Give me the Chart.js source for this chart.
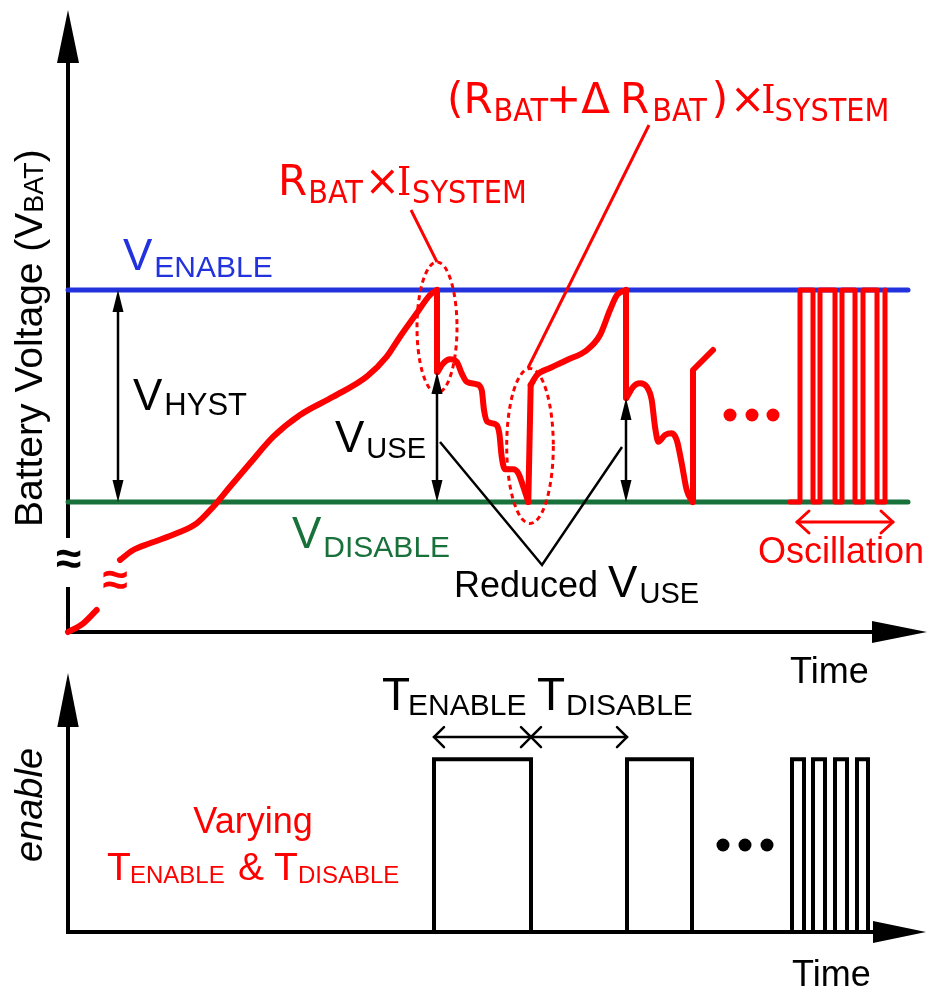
<!DOCTYPE html>
<html>
<head>
<meta charset="utf-8">
<script src="https://cdn.jsdelivr.net/npm/chart.js@4.4.1/dist/chart.umd.min.js"></script>
<style>
  html, body { margin: 0; padding: 0; background: #fff; }
  #wrap { position: relative; width: 935px; height: 996px; overflow: hidden; background: #fff; }
  canvas { position: absolute; left: 0; }
</style>
</head>
<body>
<div id="wrap">
  <canvas id="vbat" width="935" height="700" style="top:0;width:935px;height:700px"></canvas>
  <canvas id="enable" width="935" height="356" style="top:640px;width:935px;height:356px"></canvas>
</div>
<script>
// ---------------------------------------------------------------
// Battery voltage vs. time (arbitrary units) and the enable signal
// ---------------------------------------------------------------
const V_ENABLE = 34.2;
const V_DISABLE = 13.0;

// Initial charge from an empty cell (interrupted by the axis-break mark)
const chargeLowT = [0, 1.53, 2.87];
const chargeLowV = [0, 0.87, 2.2];
const chargeT = [5.2, 6.53, 8.2, 10.87, 12.87, 14.53, 16.2, 18.2, 20.53, 23.2, 26.53, 29.87, 31.87, 33.2, 34.87, 36.2, 36.9];
const chargeV = [7.2, 8.2, 8.87, 9.87, 10.87, 12.53, 14.53, 16.87, 19.53, 21.7, 23.53, 25.53, 27.53, 29.53, 31.87, 33.7, 34.2];

// First enable: IR drop, then discharge down to V_DISABLE
const drop1T = [36.9, 36.9];
const drop1V = [34.2, 26.0];
const use1T = [36.95, 37.53, 38.2, 38.87, 39.37, 39.87, 40.87, 41.37, 41.6, 41.93, 42.7, 43.13, 43.37, 43.7, 44.53, 45.03, 45.53, 46.03];
const use1V = [26.0, 26.87, 27.27, 27.03, 25.87, 25.03, 24.77, 24.2, 22.2, 21.03, 20.8, 19.87, 17.53, 16.27, 16.27, 15.87, 14.53, 13.0];

// Disable: voltage recovers by (R_BAT + dR_BAT) x I_SYSTEM, then recharges
const rise1T = [46.03, 46.27];
const rise1V = [13.0, 24.7];
const recharge1T = [46.27, 46.9, 48.2, 49.9, 51.9, 53.2, 54.2, 54.9, 55.8];
const recharge1V = [24.7, 25.7, 26.4, 27.2, 28.2, 29.7, 32.2, 33.7, 34.2];

// Second enable
const drop2T = [55.8, 55.8];
const drop2V = [34.2, 23.4];
const use2T = [55.85, 56.53, 57.2, 57.87, 58.37, 58.7, 59.03, 59.7, 60.37, 60.87, 61.37, 61.87, 62.45];
const use2V = [23.4, 24.53, 24.87, 24.53, 23.2, 20.53, 19.03, 19.7, 19.87, 19.2, 16.87, 14.2, 13.0];
const rise2T = [62.5, 62.5, 64.5];
const rise2V = [13.0, 26.2, 28.2];

// Late stage: oscillation between the two thresholds (switching instants)
const oscTimes  = [72.2, 73.2, 74.5, 75.2, 76.7, 77.4, 78.7, 79.5, 80.9, 81.7];
const oscStates = [0, 1, 0, 1, 0, 1, 0, 1, 0, 1];

// Threshold lines extent
const thresholdT = [0, 84.0];

// enable signal: switching instants and the level after each one
const enableTimes  = [0, 36.6, 46.3, 55.9, 62.4, 72.4, 73.6, 74.5, 75.7, 76.7, 77.9, 78.9, 80.0];
const enableLevels = [0, 1, 0, 1, 0, 1, 0, 1, 0, 1, 0, 1, 0];

// ---------------------------------------------------------------
const RED = '#ff0000', BLUE = '#2233dd', GREEN = '#18703a', BLACK = '#000000';
const FONT = '"Liberation Sans", Arial, Helvetica, sans-serif';
const FORMULA_FONT = '"DejaVu Sans", sans-serif';
const FORMULA_SUB_FONT = '"DejaVu Sans Condensed", "DejaVu Sans", sans-serif';
const SERIF_FONT = '"DejaVu Serif Condensed", "DejaVu Serif", serif';

function pts(ts, vs) { return ts.map((t, i) => ({ x: t, y: vs[i] })); }

function redSeg(ts, vs, smooth) {
  return {
    data: pts(ts, vs),
    borderColor: RED, borderWidth: 6, pointRadius: 0, fill: false, clip: false,
    tension: smooth ? 0.4 : 0,
    cubicInterpolationMode: smooth ? 'monotone' : 'default',
    borderCapStyle: 'round', borderJoinStyle: 'round'
  };
}

function fontOf(r) { return (r.italic ? 'italic ' : '') + (r.bold ? 'bold ' : '') + r.size + 'px ' + (r.fam || FONT); }

// Draws a run of text pieces (main letters + subscripts) starting at (x, y) baseline
function drawRuns(ctx, x, y, runs, color, align) {
  ctx.fillStyle = color;
  ctx.textAlign = 'left';
  ctx.textBaseline = 'alphabetic';
  const widths = runs.map(r => { ctx.font = fontOf(r); return ctx.measureText(r.s).width; });
  let cx = x;
  if (align === 'center') {
    const total = widths.reduce((a, b) => a + b, 0) + runs.reduce((a, r) => a + (r.gap || 0), 0);
    cx = x - total / 2;
  }
  runs.forEach((r, i) => {
    ctx.font = fontOf(r);
    const rx = (r.x !== undefined) ? x + r.x : cx + (r.gap || 0);
    ctx.fillText(r.s, rx, y + (r.dy || 0));
    cx = rx + widths[i];
  });
}

function line(ctx, x1, y1, x2, y2) {
  ctx.beginPath(); ctx.moveTo(x1, y1); ctx.lineTo(x2, y2); ctx.stroke();
}

// Filled arrow head, tip at (tx, ty), pointing along (dx, dy)
function head(ctx, tx, ty, dx, dy, len, hw) {
  const bx = tx - dx * len, by = ty - dy * len;
  ctx.beginPath();
  ctx.moveTo(tx, ty);
  ctx.lineTo(bx - dy * hw, by + dx * hw);
  ctx.lineTo(bx + dy * hw, by - dx * hw);
  ctx.closePath(); ctx.fill();
}

// Open chevron arrow head, tip at (tx, ty), pointing along (dx, 0)
function chevron(ctx, tx, ty, dx, arm, spread) {
  ctx.beginPath();
  ctx.moveTo(tx - dx * arm, ty - spread);
  ctx.lineTo(tx, ty);
  ctx.lineTo(tx - dx * arm, ty + spread);
  ctx.stroke();
}

function vDoubleArrow(ctx, x, y1, y2) {
  ctx.lineWidth = 2.5;
  line(ctx, x, y1 + 12, x, y2 - 12);
  head(ctx, x, y1, 0, -1, 22, 5.5);
  head(ctx, x, y2, 0, 1, 22, 5.5);
}

function hDoubleArrow(ctx, x1, x2, y, arm, spread) {
  line(ctx, x1, y, x2, y);
  chevron(ctx, x1, y, -1, arm, spread);
  chevron(ctx, x2, y, 1, arm, spread);
}

function rotatedRuns(ctx, x, y, runs, color) {
  ctx.save();
  ctx.translate(x, y);
  ctx.rotate(-Math.PI / 2);
  drawRuns(ctx, 0, 0, runs, color);
  ctx.restore();
}

// ---------------- Annotation layout (top panel) -----------------
const F = FORMULA_FONT, FS = FORMULA_SUB_FONT, S = SERIF_FONT;
const topLabels = [
  { t: 5.5,  v: 36.2, color: BLUE,  runs: [{ s: 'V', size: 44 }, { s: 'ENABLE', size: 30, dy: 7, gap: 2 }] },
  { t: 6.5,  v: 22.2, color: BLACK, runs: [{ s: 'V', size: 44 }, { s: 'HYST', size: 31, dy: 5, gap: 2 }] },
  { t: 22.4, v: 8.4,  color: GREEN, runs: [{ s: 'V', size: 44 }, { s: 'DISABLE', size: 30, dy: 9, gap: 2 }] },
  { t: 26.7, v: 18.0, color: BLACK, runs: [{ s: 'V', size: 44 }, { s: 'USE', size: 29, dy: 6, gap: 2 }] },
  { t: 38.6, v: 3.5,  color: BLACK, runs: [{ s: 'Reduced ', size: 36 }, { s: 'V', size: 44 }, { s: 'USE', size: 29, dy: 6, gap: 2 }] },
  { t: 21.0, v: 43.7, color: RED, runs: [
      { s: 'R', size: 42, fam: F }, { s: 'BAT', size: 32, dy: 8, fam: FS, gap: 1 },
      { s: '\u00d7', size: 42, fam: F, gap: 2 },
      { s: 'I', size: 40, fam: S, gap: -3 }, { s: 'SYSTEM', size: 32, dy: 8, fam: FS, gap: 1 }] },
  { t: 37.9, v: 51.9, color: RED, runs: [
      { s: '(', size: 42, fam: F }, { s: 'R', size: 42, fam: F }, { s: 'BAT', size: 32, dy: 8, fam: FS, gap: 1 },
      { s: '+', size: 42, fam: F, gap: -2 }, { s: '\u0394', size: 42, fam: F }, { s: 'R', size: 42, fam: F, gap: 10 },
      { s: 'BAT', size: 32, dy: 8, fam: FS, gap: 3 }, { s: ')', size: 42, fam: F, gap: 5 }, { s: '\u00d7', size: 42, fam: F, gap: 2 },
      { s: 'I', size: 40, fam: S, gap: -4 }, { s: 'SYSTEM', size: 32, dy: 8, fam: FS, gap: -1 }] },
  { t: 69.0, v: 6.9,  color: RED,   runs: [{ s: 'Oscillation', size: 36 }] },
  { t: 72.2, v: -5.1, color: BLACK, runs: [{ s: 'Time', size: 36 }] }
];
const axisTitleTop = { t: -2.6, v: 10.5, runs: [{ s: 'Battery Voltage (V', size: 39 }, { s: 'BAT', size: 27, dy: 1 }, { s: ')', size: 39 }] };
const AXIS_BREAK = [4.5, 9.4];               // gap in the voltage axis
const axisBreakMark = { t: 0.05, v: 7.1 };
const curveBreakMark = { t: 4.7, v: 5.0 };
const ellipses = [ { t: 36.9, v: 30.45, rx: 20, ry: 65.5 }, { t: 46.2, v: 18.6, rx: 23.3, ry: 77.5 } ];
const leaders = [ [[34.3, 42.2], [36.9, 37.0]], [[58.1, 50.7], [46.0, 26.4]] ];
const reducedLines = [[37.2, 19.0], [47.4, 6.7], [55.4, 18.5]];
const hystArrowT = 5.0;
const moreDotsTop = { t: [66.2, 68.4, 70.5], v: 21.7 };
const oscArrow = { t1: 72.9, t2: 82.5, v: 11.0 };

const topDecor = {
  id: 'topDecor',
  beforeDatasetsDraw(chart) {
    const { ctx, chartArea: a, scales: { x, y } } = chart;
    const x0 = a.left, y0 = y.getPixelForValue(0);
    ctx.save();
    ctx.strokeStyle = BLACK; ctx.fillStyle = BLACK; ctx.lineWidth = 4; ctx.lineCap = 'butt';
    line(ctx, x0, y0 + 2, x0, y.getPixelForValue(AXIS_BREAK[0]));
    line(ctx, x0, y.getPixelForValue(AXIS_BREAK[1]), x0, a.top + 50);
    head(ctx, x0, a.top, 0, -1, 53, 11);
    line(ctx, x0 - 2, y0, a.right - 50, y0);
    head(ctx, a.right + 2, y0, 1, 0, 55, 11);
    ctx.restore();
  },
  afterDatasetsDraw(chart) {
    const { ctx, scales: { x, y } } = chart;
    const X = t => x.getPixelForValue(t), Y = v => y.getPixelForValue(v);
    ctx.save();

    // axis-break marks
    ctx.textAlign = 'center'; ctx.textBaseline = 'middle';
    ctx.font = 'bold 46px ' + FONT;
    ctx.fillStyle = BLACK; ctx.fillText('\u2248', X(axisBreakMark.t), Y(axisBreakMark.v));
    ctx.fillStyle = RED;   ctx.fillText('\u2248', X(curveBreakMark.t), Y(curveBreakMark.v));

    // dashed ellipses around the IR steps
    ctx.strokeStyle = RED; ctx.lineWidth = 3; ctx.setLineDash([5, 4]);
    ellipses.forEach(e => { ctx.beginPath(); ctx.ellipse(X(e.t), Y(e.v), e.rx, e.ry, 0, 0, Math.PI * 2); ctx.stroke(); });
    ctx.setLineDash([]);

    // leader lines from the formulas
    ctx.lineWidth = 3;
    leaders.forEach(l => line(ctx, X(l[0][0]), Y(l[0][1]), X(l[1][0]), Y(l[1][1])));

    // usable-voltage arrows
    ctx.strokeStyle = BLACK; ctx.fillStyle = BLACK;
    vDoubleArrow(ctx, X(hystArrowT), Y(V_ENABLE), Y(V_DISABLE));
    vDoubleArrow(ctx, X(drop1T[1]), Y(drop1V[1]), Y(V_DISABLE));
    vDoubleArrow(ctx, X(drop2T[1]), Y(drop2V[1]), Y(V_DISABLE));

    // "Reduced V_USE" pointer
    ctx.lineWidth = 2.5; ctx.lineJoin = 'miter';
    ctx.beginPath();
    reducedLines.forEach((p, i) => i ? ctx.lineTo(X(p[0]), Y(p[1])) : ctx.moveTo(X(p[0]), Y(p[1])));
    ctx.stroke();

    // continuation dots
    ctx.fillStyle = RED;
    moreDotsTop.t.forEach(t => { ctx.beginPath(); ctx.arc(X(t), Y(moreDotsTop.v), 6.5, 0, Math.PI * 2); ctx.fill(); });

    // oscillation span arrow
    ctx.strokeStyle = RED; ctx.lineWidth = 3; ctx.lineJoin = 'round'; ctx.lineCap = 'round';
    hDoubleArrow(ctx, X(oscArrow.t1), X(oscArrow.t2), Y(oscArrow.v), 12, 11);

    // labels
    topLabels.forEach(l => drawRuns(ctx, X(l.t), Y(l.v), l.runs, l.color, l.align));
    rotatedRuns(ctx, X(axisTitleTop.t), Y(axisTitleTop.v), axisTitleTop.runs, BLACK);
    ctx.restore();
  }
};

const oscData = oscTimes.map((t, i) => ({ x: t, y: oscStates[i] ? V_ENABLE : V_DISABLE }));

new Chart(document.getElementById('vbat'), {
  type: 'line',
  data: {
    datasets: [
      redSeg(chargeLowT, chargeLowV, true),
      redSeg(chargeT, chargeV, true),
      redSeg(drop1T, drop1V, false),
      redSeg(use1T, use1V, true),
      redSeg(rise1T, rise1V, false),
      redSeg(recharge1T, recharge1V, true),
      redSeg(drop2T, drop2V, false),
      redSeg(use2T, use2V, true),
      redSeg(rise2T, rise2V, false),
      { data: oscData, stepped: 'before', borderColor: RED, borderWidth: 5, pointRadius: 0, fill: false, clip: false,
        borderJoinStyle: 'round', borderCapStyle: 'round' },
      { data: pts(thresholdT, [V_ENABLE, V_ENABLE]), borderColor: BLUE, borderWidth: 5, pointRadius: 0, clip: false, borderCapStyle: 'round' },
      { data: pts(thresholdT, [V_DISABLE, V_DISABLE]), borderColor: GREEN, borderWidth: 5, pointRadius: 0, clip: false, borderCapStyle: 'round' }
    ]
  },
  options: {
    responsive: false, animation: false, devicePixelRatio: 1, events: [],
    layout: { padding: { left: 68, right: 10, top: 10, bottom: 68 } },
    plugins: { legend: { display: false }, tooltip: { enabled: false } },
    scales: {
      x: { type: 'linear', min: 0, max: 85.7, display: false },
      y: { type: 'linear', min: 0, max: 62.2, display: false }
    }
  },
  plugins: [topDecor]
});

// ---------------- Annotation layout (bottom panel) -----------------
const enLabels = [
  { t: 31.4, v: 1.286, color: BLACK, runs: [{ s: 'T', size: 46 }, { s: 'ENABLE', size: 30, dy: 5, gap: -2 }] },
  { t: 46.9, v: 1.286, color: BLACK, runs: [{ s: 'T', size: 46 }, { s: 'DISABLE', size: 30, dy: 5, gap: 1 }] },
  { t: 18.5, v: 0.573, color: RED, align: 'center', runs: [{ s: 'Varying', size: 36 }] },
  { t: 3.9,  v: 0.301, color: RED, runs: [
      { s: 'T', size: 39, x: 0 }, { s: 'ENABLE', size: 24, dy: 3, x: 23 }, { s: '&', size: 39, x: 131 },
      { s: 'T', size: 39, x: 167 }, { s: 'DISABLE', size: 24, dy: 3, x: 191 }] },
  { t: 72.4, v: -0.313, color: BLACK, runs: [{ s: 'Time', size: 36 }] }
];
const axisTitleBottom = { t: -2.6, v: 0.405, runs: [{ s: 'enable', size: 38, italic: true }] };
const periodArrowV = 1.129;
const moreDotsBottom = { t: [65.5, 67.7, 69.9], v: 0.504 };

const enDecor = {
  id: 'enDecor',
  beforeDatasetsDraw(chart) {
    const { ctx, chartArea: a, scales: { y } } = chart;
    const x0 = a.left, y0 = y.getPixelForValue(0);
    ctx.save();
    ctx.strokeStyle = BLACK; ctx.fillStyle = BLACK; ctx.lineWidth = 4;
    line(ctx, x0, y0 + 2, x0, a.top + 50);
    head(ctx, x0, a.top, 0, -1, 54, 10.7);
    line(ctx, x0 - 2, y0, a.right - 50, y0);
    head(ctx, a.right + 1, y0, 1, 0, 53, 11);
    ctx.restore();
  },
  afterDatasetsDraw(chart) {
    const { ctx, scales: { x, y } } = chart;
    const X = t => x.getPixelForValue(t), Y = v => y.getPixelForValue(v);
    ctx.save();
    // T_ENABLE / T_DISABLE spans
    ctx.strokeStyle = BLACK; ctx.lineWidth = 2.5; ctx.lineCap = 'round'; ctx.lineJoin = 'miter';
    hDoubleArrow(ctx, X(enableTimes[1]), X(enableTimes[2]), Y(periodArrowV), 10, 10);
    hDoubleArrow(ctx, X(enableTimes[2]), X(enableTimes[3]), Y(periodArrowV), 10, 10);
    // continuation dots
    ctx.fillStyle = BLACK;
    moreDotsBottom.t.forEach(t => { ctx.beginPath(); ctx.arc(X(t), Y(moreDotsBottom.v), 6.5, 0, Math.PI * 2); ctx.fill(); });
    enLabels.forEach(l => drawRuns(ctx, X(l.t), Y(l.v), l.runs, l.color, l.align));
    rotatedRuns(ctx, X(axisTitleBottom.t), Y(axisTitleBottom.v), axisTitleBottom.runs, BLACK);
    ctx.restore();
  }
};

new Chart(document.getElementById('enable'), {
  type: 'line',
  data: {
    datasets: [{
      data: pts(enableTimes, enableLevels), stepped: 'before',
      borderColor: BLACK, borderWidth: 4, pointRadius: 0, fill: false, clip: false,
      borderJoinStyle: 'miter', borderCapStyle: 'butt'
    }]
  },
  options: {
    responsive: false, animation: false, devicePixelRatio: 1, events: [],
    layout: { padding: { left: 68, right: 10, top: 33, bottom: 64 } },
    plugins: { legend: { display: false }, tooltip: { enabled: false } },
    scales: {
      x: { type: 'linear', min: 0, max: 85.7, display: false },
      y: { type: 'linear', min: 0, max: 1.5, display: false }
    }
  },
  plugins: [enDecor]
});
</script>
</body>
</html>
